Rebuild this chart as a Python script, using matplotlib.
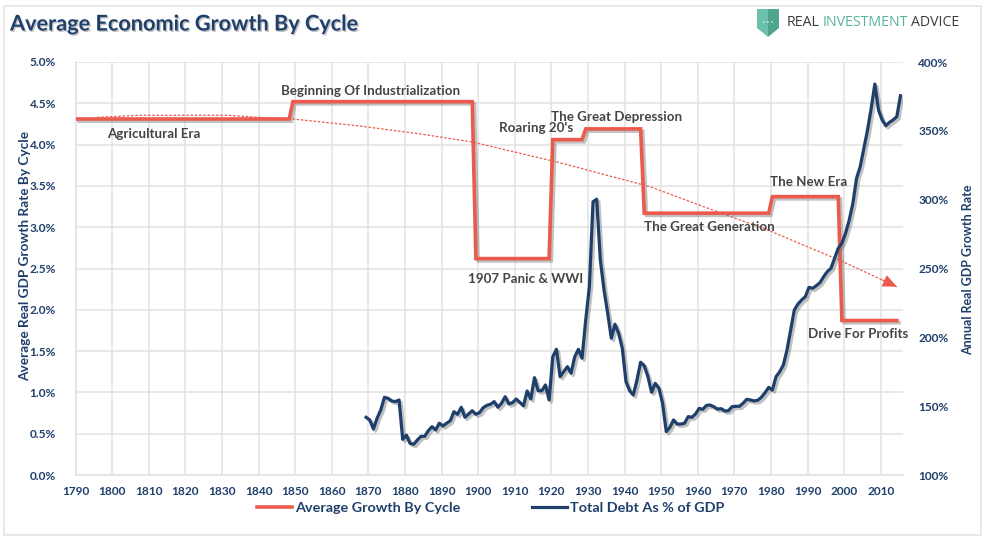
import numpy as np
import matplotlib
matplotlib.use("Agg")
import matplotlib.pyplot as plt
import matplotlib.patheffects as pe
from matplotlib.patches import Polygon, Rectangle, Circle
from matplotlib.ticker import FuncFormatter

plt.rcParams['font.family'] = ['Lato', 'DejaVu Sans']

W, H = 986, 541
NAVY = '#1F3F6B'
RED = '#EB5A4C'
GRID = '#E1E1E1'
GREY = '#444444'
TEAL = '#55B39C'

debt_years = list(range(1870, 2017))
debt_pct = [
    141.9, 140.0, 133.4, 141.2, 147.2, 156.4, 155.7, 153.8, 153.3, 154.5,
    125.9, 129.0, 123.0, 122.3, 125.4, 128.1, 128.1, 132.2, 135.1, 132.7,
    137.6, 135.6, 137.6, 139.4, 146.0, 144.1, 149.2, 141.9, 144.3, 146.7,
    144.1, 145.3, 148.9, 150.6, 151.4, 153.3, 149.2, 152.1, 156.9, 151.6,
    152.5, 155.2, 152.8, 150.3, 161.0, 155.2, 170.7, 161.2, 161.2, 165.4,
    154.5, 185.9, 191.3, 171.4, 175.0, 178.7, 173.9, 185.9, 191.3, 184.8,
    212.6, 236.8, 298.5, 300.3, 256.2, 234.4, 217.5, 199.3, 209.5, 202.9,
    192.0, 167.8, 161.2, 158.1, 169.0, 181.9, 179.4, 171.4, 160.1, 166.6,
    163.0, 152.1, 131.5, 134.6, 140.0, 137.0, 137.0, 137.6, 142.4, 141.9,
    144.3, 148.4, 147.7, 150.6, 150.8, 149.6, 147.9, 148.2, 146.5, 146.7,
    149.6, 149.9, 149.9, 152.1, 155.0, 154.5, 153.8, 154.3, 156.4, 159.8,
    163.7, 161.7, 171.4, 175.0, 179.9, 190.8, 205.3, 219.9, 224.2, 227.1,
    229.5, 236.3, 235.6, 237.5, 239.7, 244.0, 247.7, 250.1, 257.4, 264.7,
    268.3, 275.6, 285.2, 297.4, 315.5, 324.0, 337.3, 350.6, 366.4, 384.0,
    365.1, 357.9, 353.7, 356.2, 357.9, 360.3, 375.5,
]

growth_years = [1791, 1849, 1850, 1899, 1900, 1920, 1921, 1929,
                1930, 1945, 1946, 1980, 1981, 1999, 2000, 2015]
growth_pct = [4.31, 4.31, 4.52, 4.52, 2.62, 2.62, 4.06, 4.06,
              4.19, 4.19, 3.17, 3.17, 3.37, 3.37, 1.87, 1.87]

trend_years = [1795.9, 1807.6, 1831.4, 1844.0, 1849.4, 1867.7, 1884.1, 1898.6,
               1922.4, 1947.0, 1965.2, 1978.9, 1998.8, 2014.4]
trend_pct = [4.33, 4.355, 4.355, 4.32, 4.31, 4.225, 4.13, 4.03,
             3.78, 3.49, 3.19, 2.97, 2.60, 2.28]

x_ticks = list(range(1790, 2011, 10))
left_ticks = [0.0, 0.5, 1.0, 1.5, 2.0, 2.5, 3.0, 3.5, 4.0, 4.5, 5.0]
right_ticks = [100, 150, 200, 250, 300, 350, 400]

cycle_labels = ['Agricultural Era', 'Beginning Of Industrialization', "Roaring 20's",
                'The Great Depression', '1907 Panic & WWI', 'The Great Generation',
                'The New Era', 'Drive For Profits']
cycle_label_x = [1811.5, 1870.7, 1915.8, 1937.9, 1913.0, 1963.3, 1990.4, 2003.8]
cycle_label_y = [4.13, 4.65, 4.20, 4.33, 2.37, 3.00, 3.55, 1.71]

PLOT_OFFSET = 0.6  # annual points sit slightly left of the tick position

fig = plt.figure(figsize=(W / 100, H / 100), dpi=100, facecolor='white')


def fx(px):
    return px / W


def fy(py):
    return 1 - py / H


fig.add_artist(Rectangle((fx(4), fy(535)), fx(977), 529 / H,
                         transform=fig.transFigure, fill=False, ec='#E4E4E4', lw=1.2))

L, R, T, B = 75.5, 903, 62, 475
ax = fig.add_axes([fx(L), fy(B), fx(R - L), (B - T) / H])
ax.set_xlim(1790, 1790 + (R - L) / 3.66)
ax.set_ylim(0, 5)
ax.set_xticks(x_ticks)
ax.set_yticks(left_ticks)
ax.yaxis.set_major_formatter(FuncFormatter(lambda v, _: f'{v:.1f}%'))
ax.grid(True, color=GRID, lw=1.1)
ax.set_axisbelow(True)
for s in ax.spines.values():
    s.set_visible(False)
for side in ('bottom', 'left'):
    ax.spines[side].set_visible(True)
    ax.spines[side].set_color(GRID)
    ax.spines[side].set_linewidth(1.1)
ax.tick_params(length=0, labelcolor=NAVY, labelsize=8.6, pad=8)
ax.tick_params(axis='y', pad=14)
for lab in ax.get_xticklabels() + ax.get_yticklabels():
    lab.set_fontweight('bold')
ax.set_ylabel('Average Real GDP Growth Rate By Cycle', color=NAVY, fontsize=9.8,
              fontweight='bold')
ax.yaxis.set_label_coords((31 - L) / (R - L), (B - 256) / (B - T))

ax2 = ax.twinx()
ax2.set_ylim(100, 400)
ax2.set_yticks(right_ticks)
ax2.yaxis.set_major_formatter(FuncFormatter(lambda v, _: f'{v:.0f}%'))
for s in ax2.spines.values():
    s.set_visible(False)
ax2.tick_params(length=0, labelcolor=NAVY, labelsize=8.6, pad=11)
for lab in ax2.get_yticklabels():
    lab.set_fontweight('bold')
ax2.set_ylabel('Annual Real GDP Growth Rate', color=NAVY, fontsize=9.0,
               fontweight='bold', rotation=90)
ax2.yaxis.set_label_coords((962 - L) / (R - L), (B - 270) / (B - T))

shadow = [pe.SimpleLineShadow(offset=(1.6, -1.6), shadow_color='#777777', alpha=0.45),
          pe.Normal()]

ax.plot(trend_years, trend_pct, color=RED, lw=0.9, ls=(0, (2, 1.4)), zorder=3)
# solid head on the last stretch of the dashed trend
head_from = (trend_years[-2] * 0.25 + trend_years[-1] * 0.75,
             trend_pct[-2] * 0.25 + trend_pct[-1] * 0.75)
ax.annotate('', xy=(trend_years[-1], trend_pct[-1]), xytext=head_from,
            arrowprops=dict(arrowstyle='-|>,head_length=0.85,head_width=0.38', color=RED,
                            lw=0.9, shrinkA=0, shrinkB=0), zorder=3)

growth_line, = ax.plot(np.array(growth_years) - PLOT_OFFSET, growth_pct, color=RED, lw=2.6,
                       solid_joinstyle='miter', path_effects=shadow, zorder=4,
                       label='Average Growth By Cycle')
debt_line, = ax2.plot(np.array(debt_years) - PLOT_OFFSET, debt_pct, color=NAVY, lw=2.3,
                      solid_joinstyle='round', path_effects=shadow, zorder=5,
                      label='Total Debt As % of GDP')

for t, x, y in zip(cycle_labels, cycle_label_x, cycle_label_y):
    ax.text(x, y, t, ha='center', va='center', color=GREY, fontsize=9.6, fontweight='bold',
            zorder=6)

leg = fig.legend(handles=[growth_line, debt_line], ncol=2, frameon=False,
                 loc='center left', bbox_to_anchor=(fx(250), fy(508)),
                 prop={'weight': 'bold', 'size': 10.4}, labelcolor=NAVY,
                 handlelength=2.4, handletextpad=0.2, columnspacing=5.0, borderpad=0)
for h in leg.legend_handles:
    h.set_path_effects([])

fig.text(fx(10), fy(24), 'Average Economic Growth By Cycle', color=NAVY, fontsize=15.6,
         fontweight='bold', va='center', ha='left',
         path_effects=[pe.withSimplePatchShadow(offset=(1, -1), shadow_rgbFace='#888888',
                                                alpha=0.5)])

# logo
shield_l = [(757, 9), (768, 9), (768, 37), (757, 28)]
shield_r = [(768, 9), (779, 9), (779, 28), (768, 37)]
for pts, col in ((shield_l, '#6CC1AC'), (shield_r, '#4FA68F')):
    fig.add_artist(Polygon([(fx(a), fy(b)) for a, b in pts], closed=True,
                           transform=fig.transFigure, fc=col, ec='none'))
for dx in (764, 768, 772):
    fig.add_artist(Circle((fx(dx), fy(22)), 1.0 / W, transform=fig.transFigure, fc='white',
                          ec='none'))

r = fig.canvas.get_renderer()
cursor = 787
for word, col in (('REAL', '#3A3A3A'), ('INVESTMENT', TEAL), ('ADVICE', '#3A3A3A')):
    t = fig.text(fx(cursor), fy(23), word, color=col, fontsize=10.2, va='center',
                 ha='left', family=['Open Sans', 'DejaVu Sans'])
    cursor = t.get_window_extent(r).x1 + 3

fig.savefig('out.png', dpi=100, facecolor='white')
